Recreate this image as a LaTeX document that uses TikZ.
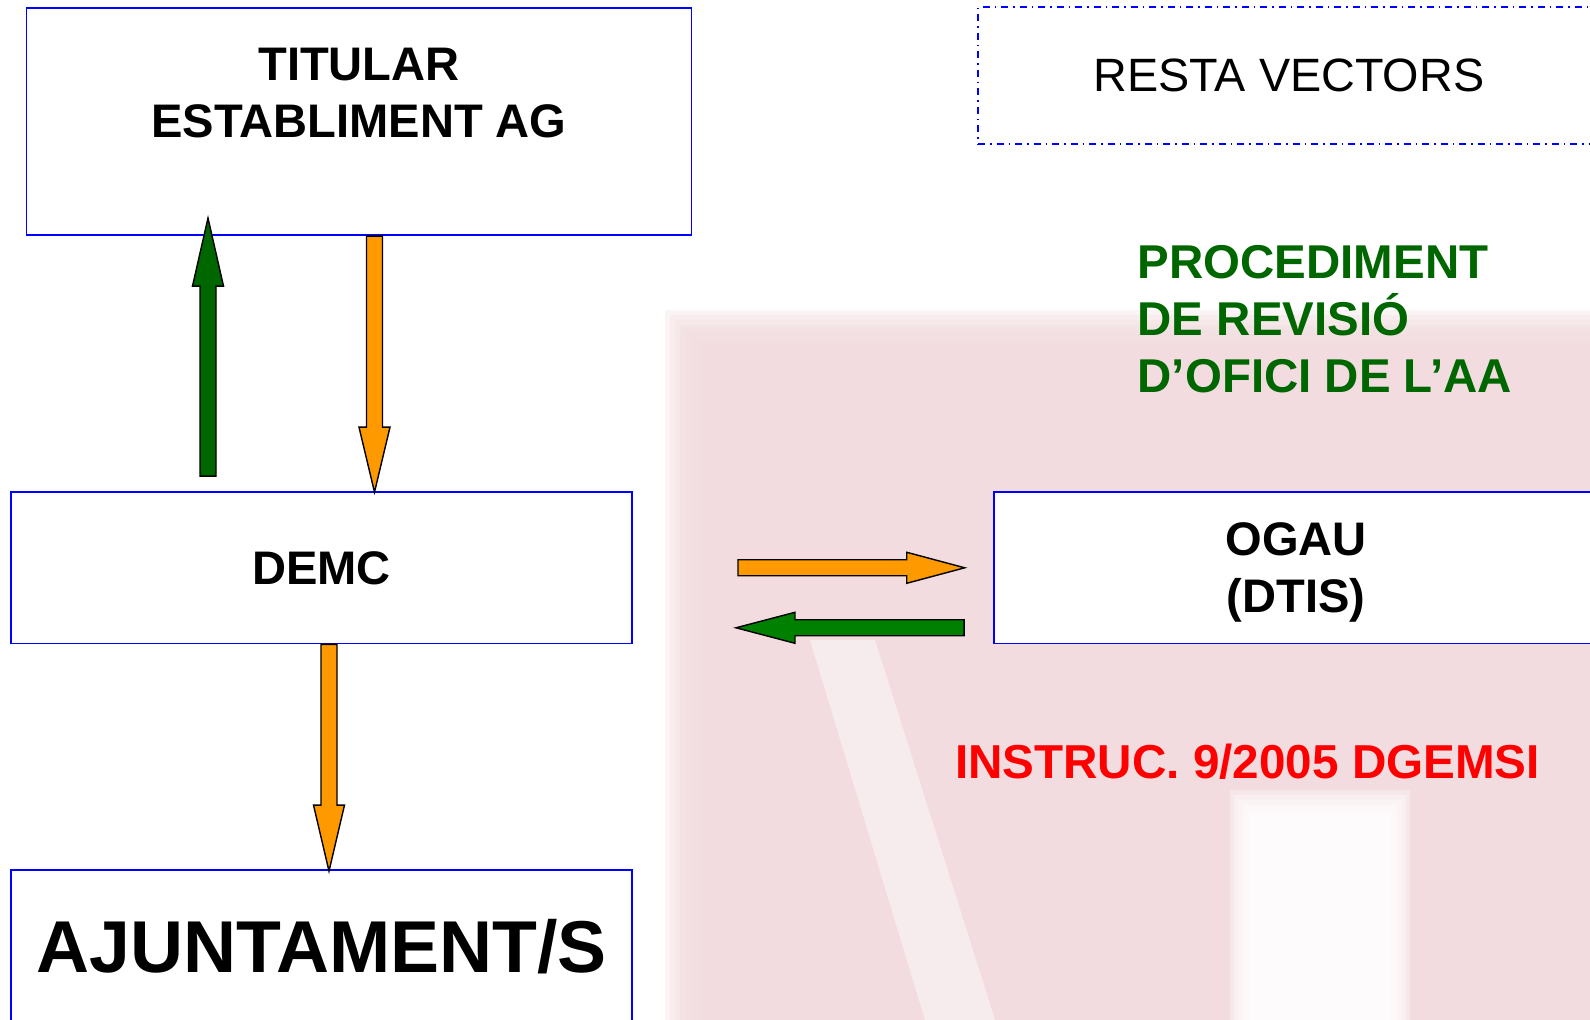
\documentclass[tikz,border=0pt]{standalone}
\usepackage{fontspec}
\setmainfont{Liberation Sans}
\usetikzlibrary{calc}

\definecolor{arroworange}{RGB}{255,153,0}
\definecolor{darkgreen}{RGB}{0,102,0}
\definecolor{midgreen}{RGB}{0,128,0}
\definecolor{wmpink}{RGB}{241,218,221}

\tikzset{
	box/.style={draw=blue, line width=0.5pt, fill=white, align=center, font=\bfseries\fontsize{13.4}{16.3}\selectfont},
	arrowline/.style={draw=black, line width=0.4pt, line join=miter}
}

% block arrow: start, end, colour, head length, name
\newcommand{\blockarrow}[5]{
	\coordinate (#5-b) at ($(#2)!#4!(#1)$);
	\draw[arrowline, fill=#3] ($(#1)!0.08cm!90:(#2)$) -- ($(#5-b)!0.08cm!90:(#2)$) -- ($(#5-b)!0.155cm!90:(#2)$) -- (#2) -- ($(#5-b)!0.155cm!-90:(#2)$) -- ($(#5-b)!0.08cm!-90:(#2)$) -- ($(#1)!0.08cm!-90:(#2)$) -- cycle;
}

\begin{document}
\begin{tikzpicture}[y=-1cm]
		\useasboundingbox (0,0) rectangle (15.9,10.2);
		\clip (0,0) rectangle (15.9,10.2);

		% watermark
		\foreach \i in {0,...,7}
			\fill[wmpink, opacity=0.3] ({6.65+0.05*\i},{3.1+0.05*\i}) rectangle (15.9,10.2);
		\foreach \i in {0,...,5}
			\fill[white, opacity=0.35] ({12.3+0.04*\i},{7.9+0.05*\i}) rectangle ({14.1-0.04*\i},10.2);
		\fill[white, opacity=0.45] (8.1,6.4) -- (8.75,6.4) -- (9.95,10.2) -- (9.25,10.2) -- cycle;

		\node[box, minimum width=6.65cm, minimum height=2.27cm] (titular) at (3.59,1.217) {TITULAR\\ESTABLIMENT AG\\\mbox{}};
		\node[box, minimum width=6.21cm, minimum height=1.515cm] (demc) at (3.216,5.678) {DEMC};
		\node[box, minimum width=6.21cm, minimum height=1.54cm, font=\bfseries\fontsize{20.9}{25}\selectfont] (ajunt) at (3.216,9.47) {AJUNTAMENT/S};
		\node[box, minimum width=6.04cm, minimum height=1.515cm] (ogau) at (12.96,5.678) {OGAU\\\smash{(DTIS)}};
		\node[box, font=\fontsize{13.3}{16}\selectfont, dash pattern=on 0.07cm off 0.05cm on 0.015cm off 0.05cm, minimum width=6.22cm, minimum height=1.367cm] (resta) at (12.89,0.757) {RESTA VECTORS};

		\node[anchor=north west, inner sep=0, align=left, text=darkgreen, font=\bfseries\fontsize{13.5}{16.2}\selectfont] (proc) at (11.37,2.45) {PROCEDIMENT\\DE REVISIÓ\\D’OFICI DE L’AA};
		\node[anchor=base, inner sep=0, text=red, font=\bfseries\fontsize{13.55}{16}\selectfont] (instr) at (12.475,7.79) {INSTRUC. 9/2005 DGEMSI};

		% arrows
		\coordinate (up-s) at ($(demc.north)+(-1.136,-0.15)$);
		\coordinate (up-e) at ($(titular.south)+(-1.51,-0.18)$);
		\coordinate (dn1-s) at ($(titular.south)+(0.155,0)$);
		\coordinate (dn1-e) at ($(demc.north)+(0.529,0.01)$);
		\coordinate (dn2-s) at ($(demc.south)+(0.074,0)$);
		\coordinate (dn2-e) at ($(ajunt.north)+(0.074,0.02)$);
		\coordinate (rt-s) at ($(demc.east)+(1.05,0)$);
		\coordinate (rt-e) at ($(ogau.west)+(-0.284,0)$);
		\coordinate (lt-s) at ($(ogau.west)+(-0.29,0.6)$);
		\coordinate (lt-e) at ($(demc.east)+(1.03,0.6)$);

		\blockarrow{up-s}{up-e}{darkgreen}{0.68cm}{up}
		\blockarrow{dn1-s}{dn1-e}{arroworange}{0.65cm}{dn1}
		\blockarrow{dn2-s}{dn2-e}{arroworange}{0.66cm}{dn2}
		\blockarrow{rt-s}{rt-e}{arroworange}{0.58cm}{rt}
		\blockarrow{lt-s}{lt-e}{midgreen}{0.59cm}{lt}
	\end{tikzpicture}
\end{document}
